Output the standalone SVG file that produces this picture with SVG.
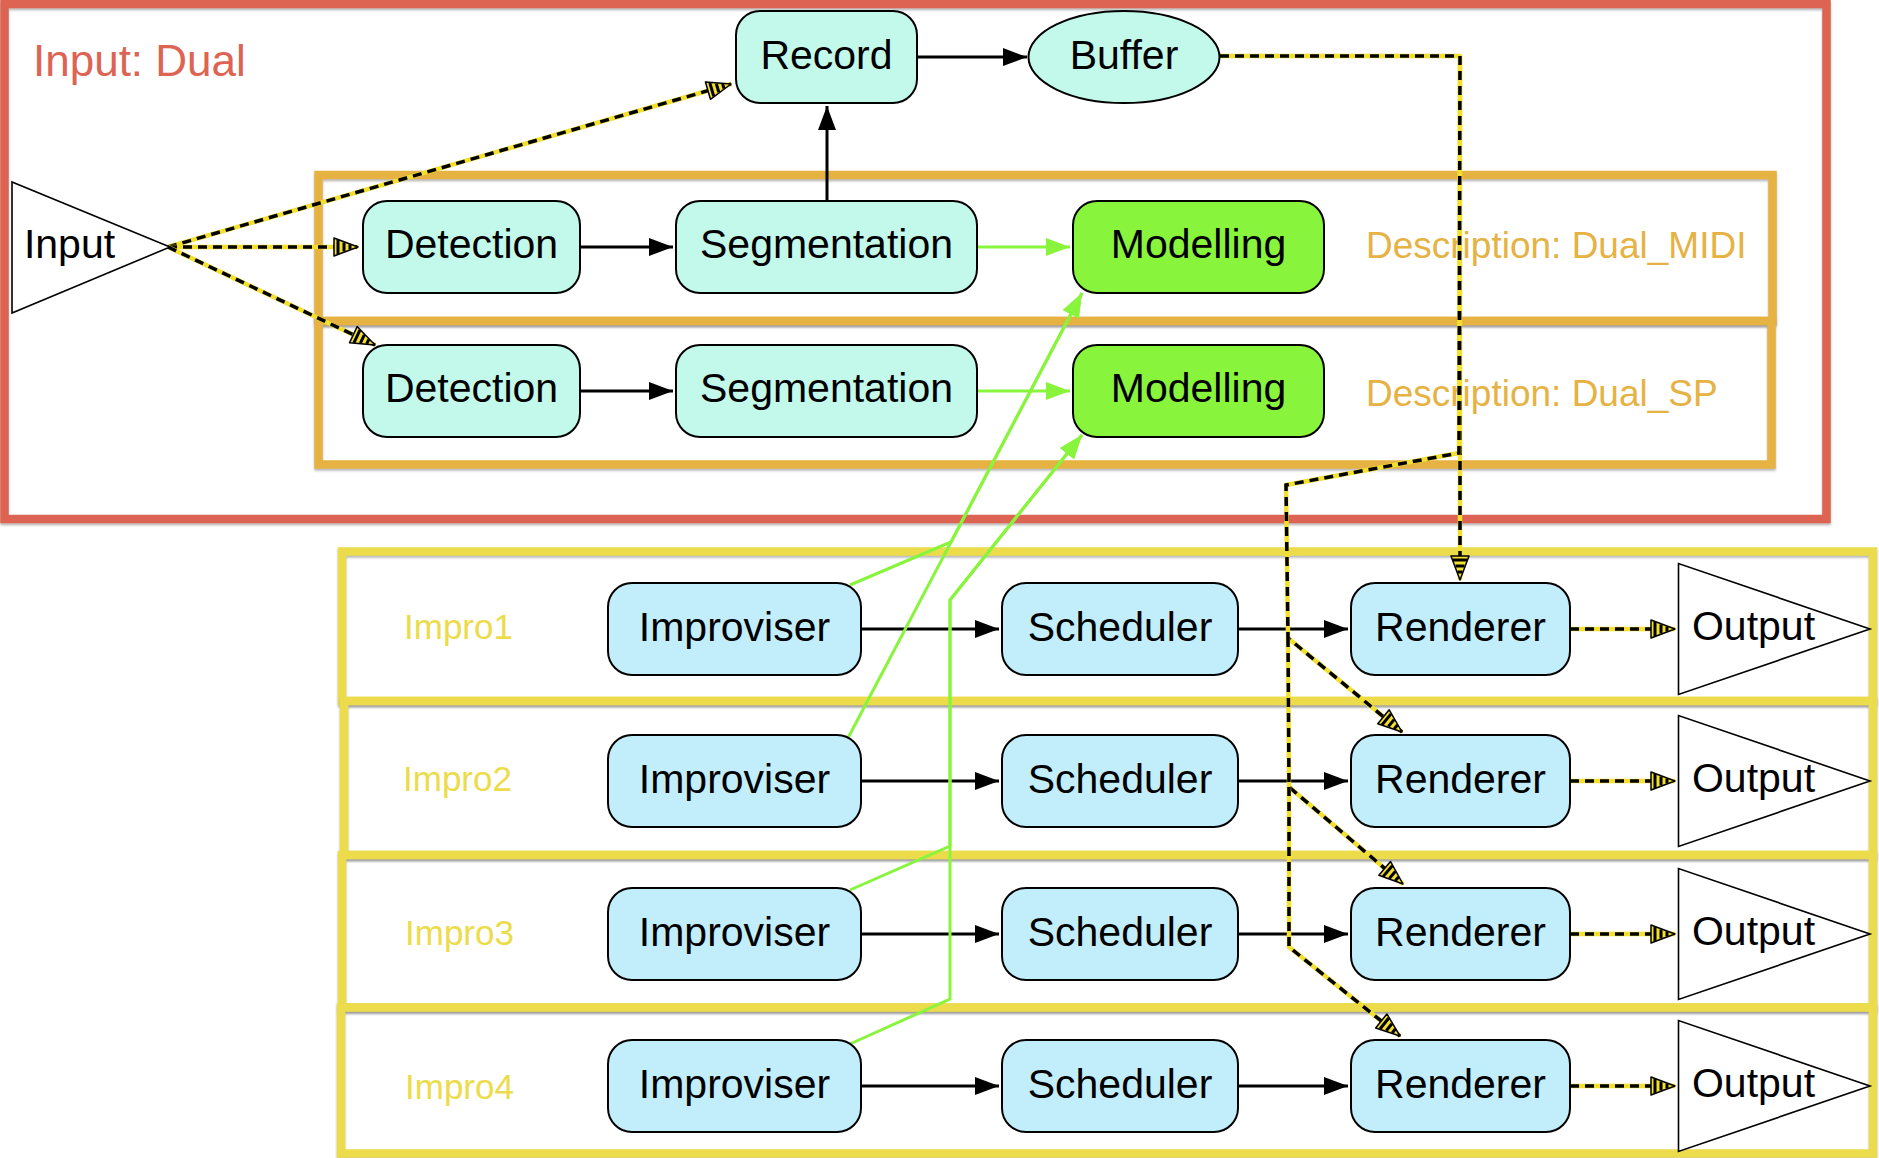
<svg xmlns="http://www.w3.org/2000/svg" width="1879" height="1158" viewBox="0 0 1879 1158">
<style>
  text { font-family: "Liberation Sans", Arial, Helvetica, sans-serif; }
  .node text, .lbl { font-size: 41px; fill: #000; text-anchor: middle; }
  .mint { fill: #C3F9EA; stroke: #000; stroke-width: 2; }
  .blue { fill: #C2EEFC; stroke: #000; stroke-width: 2; }
  .green { fill: #88F53C; stroke: #000; stroke-width: 2; }
  .tri { fill: #FFFFFF; stroke: #000; stroke-width: 1.6; }
  .cont { fill: none; stroke-width: 8.5; filter: url(#sh); }
  .red { stroke: #DD6352; }
  .orange { stroke: #E6B243; }
  .yellow { stroke: #ECDC4B; }
  .c-black { fill: none; stroke: #000; stroke-width: 3; marker-end: url(#ab); }
  .c-green { fill: none; stroke: #88F53C; stroke-width: 3; marker-end: url(#ag); }
  .c-dy { fill: none; stroke: #F2DF2E; stroke-width: 4.5; stroke-linejoin: round; }
  .c-dk { fill: none; stroke: #000; stroke-width: 3.5; stroke-dasharray: 9 6; marker-end: url(#ad); }
  .t-red { fill: #DD6352; font-size: 44px; }
  .t-orange { fill: #E6B243; font-size: 37px; }
  .t-yellow { fill: #ECDC4B; font-size: 35px; }
</style>
<defs>
  <filter id="sh" x="-5%" y="-5%" width="110%" height="115%">
    <feDropShadow dx="0" dy="2" stdDeviation="1" flood-color="#888" flood-opacity="0.6"/>
  </filter>
  <marker id="ab" markerUnits="userSpaceOnUse" markerWidth="24" markerHeight="18" refX="24" refY="9" orient="auto" overflow="visible">
    <path d="M0,0 L24,9 L0,18 z" fill="#000"/>
  </marker>
  <marker id="ag" markerUnits="userSpaceOnUse" markerWidth="24" markerHeight="18" refX="24" refY="9" orient="auto" overflow="visible">
    <path d="M0,0 L24,9 L0,18 z" fill="#88F53C"/>
  </marker>
  <marker id="ad" markerUnits="userSpaceOnUse" markerWidth="24" markerHeight="18" refX="24" refY="9" orient="auto" overflow="visible">
    <path d="M0,0 L24,9 L0,18 z" fill="#F2DF2E" stroke="#000" stroke-width="1.5" stroke-linejoin="round"/>
    <path d="M4,2 L4,16 M10,4.5 L10,13.5 M16,6.5 L16,11.5" stroke="#000" stroke-width="3"/>
  </marker>
</defs>
<rect width="1879" height="1158" fill="#FFFFFF"/>

<!-- containers -->
<g id="container-input-dual">
  <rect class="cont red" x="4.5" y="4" width="1822" height="515"/>
  <text class="t-red" x="33" y="76">Input: Dual</text>
</g>
<g id="container-dual-midi">
  <rect class="cont orange" x="318.5" y="175" width="1454" height="146"/>
  <text class="t-orange" x="1366" y="257.5">Description: Dual_MIDI</text>
</g>
<g id="container-dual-sp">
  <rect class="cont orange" x="318.5" y="321" width="1453" height="143.5"/>
  <text class="t-orange" x="1366" y="406">Description: Dual_SP</text>
</g>
<g id="container-impro1">
  <rect class="cont yellow" x="342" y="551.5" width="1531" height="149.5"/>
  <text class="t-yellow" x="404" y="639">Impro1</text>
</g>
<g id="container-impro2">
  <rect class="cont yellow" x="344" y="701" width="1529" height="154"/>
  <text class="t-yellow" x="403" y="791">Impro2</text>
</g>
<g id="container-impro3">
  <rect class="cont yellow" x="342" y="855" width="1531" height="152.5"/>
  <text class="t-yellow" x="405" y="945">Impro3</text>
</g>
<g id="container-impro4">
  <rect class="cont yellow" x="341" y="1007.5" width="1532" height="146"/>
  <text class="t-yellow" x="405" y="1099">Impro4</text>
</g>

<!-- connectors -->
<g id="connectors">
  <!-- black solid -->
  <path class="c-black" d="M917,57 L1027,57"/>
  <path class="c-black" d="M827,201 L827,106"/>
  <path class="c-black" d="M580,247 L673,247"/>
  <path class="c-black" d="M580,391 L673,391"/>
  <path class="c-black" d="M861,629 L999,629"/>
  <path class="c-black" d="M861,781 L999,781"/>
  <path class="c-black" d="M861,934 L999,934"/>
  <path class="c-black" d="M861,1086 L999,1086"/>
  <path class="c-black" d="M1238,629 L1348,629"/>
  <path class="c-black" d="M1238,781 L1348,781"/>
  <path class="c-black" d="M1238,934 L1348,934"/>
  <path class="c-black" d="M1238,1086 L1348,1086"/>
  <!-- green -->
  <path class="c-green" d="M977,247 L1070,247"/>
  <path class="c-green" d="M977,391 L1070,391"/>
  <path class="c-green" d="M850,585 L951,542 L1082,293"/>
  <path class="c-green" d="M848,738 L1082,293"/>
  <path class="c-green" d="M850,890 L950,846 L950,600 L1082,435"/>
  <path class="c-green" d="M850,1044 L950,999 L950,600 L1082,435"/>
  <!-- yellow/black dashed -->
  <g id="c-input-record"><path class="c-dy" d="M168,247 L731,84"/><path class="c-dk" d="M168,247 L731,84"/></g>
  <g id="c-input-det1"><path class="c-dy" d="M168,247 L358,247"/><path class="c-dk" d="M168,247 L358,247"/></g>
  <g id="c-input-det2"><path class="c-dy" d="M168,247 L375,345"/><path class="c-dk" d="M168,247 L375,345"/></g>
  <g id="c-buffer-r1"><path class="c-dy" d="M1220,56 L1460,56 L1460,580"/><path class="c-dk" d="M1220,56 L1460,56 L1460,580"/></g>
  <g id="c-buffer-r2"><path class="c-dy" d="M1460,56 L1459,453 L1286,485 L1288,638 L1402,732"/><path class="c-dk" d="M1460,56 L1459,453 L1286,485 L1288,638 L1402,732"/></g>
  <g id="c-buffer-r3"><path class="c-dy" d="M1288,638 L1289,787 L1403,884"/><path class="c-dk" d="M1288,638 L1289,787 L1403,884"/></g>
  <g id="c-buffer-r4"><path class="c-dy" d="M1289,787 L1289,947 L1400,1036"/><path class="c-dk" d="M1289,787 L1289,947 L1400,1036"/></g>
  <g id="c-r1-out"><path class="c-dy" d="M1570,629 L1675,629"/><path class="c-dk" d="M1570,629 L1675,629"/></g>
  <g id="c-r2-out"><path class="c-dy" d="M1570,781 L1675,781"/><path class="c-dk" d="M1570,781 L1675,781"/></g>
  <g id="c-r3-out"><path class="c-dy" d="M1570,934 L1675,934"/><path class="c-dk" d="M1570,934 L1675,934"/></g>
  <g id="c-r4-out"><path class="c-dy" d="M1570,1086 L1675,1086"/><path class="c-dk" d="M1570,1086 L1675,1086"/></g>
</g>

<!-- nodes -->
<g id="input" class="node">
  <polygon class="tri" points="12,182 12,313 170,247"/>
  <text x="69.5" y="258">Input</text>
</g>
<g id="record" class="node">
  <rect class="mint" x="736" y="11" width="181" height="92" rx="24"/>
  <text x="826.5" y="69">Record</text>
</g>
<g id="buffer" class="node">
  <ellipse class="mint" cx="1124" cy="57" rx="95.5" ry="46"/>
  <text x="1124" y="69">Buffer</text>
</g>
<g id="detection-midi" class="node">
  <rect class="mint" x="363" y="201" width="217" height="92" rx="24"/>
  <text x="471.5" y="258">Detection</text>
</g>
<g id="segmentation-midi" class="node">
  <rect class="mint" x="676" y="201" width="301" height="92" rx="24"/>
  <text x="826.5" y="258">Segmentation</text>
</g>
<g id="modelling-midi" class="node">
  <rect class="green" x="1073" y="201" width="251" height="92" rx="24"/>
  <text x="1198.5" y="258">Modelling</text>
</g>
<g id="detection-sp" class="node">
  <rect class="mint" x="363" y="345" width="217" height="92" rx="24"/>
  <text x="471.5" y="402">Detection</text>
</g>
<g id="segmentation-sp" class="node">
  <rect class="mint" x="676" y="345" width="301" height="92" rx="24"/>
  <text x="826.5" y="402">Segmentation</text>
</g>
<g id="modelling-sp" class="node">
  <rect class="green" x="1073" y="345" width="251" height="92" rx="24"/>
  <text x="1198.5" y="402">Modelling</text>
</g>

<g id="improviser1" class="node"><rect class="blue" x="608" y="583" width="253" height="92" rx="24"/><text x="734.5" y="641">Improviser</text></g>
<g id="scheduler1" class="node"><rect class="blue" x="1002" y="583" width="236" height="92" rx="24"/><text x="1120" y="641">Scheduler</text></g>
<g id="renderer1" class="node"><rect class="blue" x="1351" y="583" width="219" height="92" rx="24"/><text x="1460.5" y="641">Renderer</text></g>
<g id="output1" class="node"><polygon class="tri" points="1678.5,563.5 1678.5,694.5 1870,629"/><text x="1753.5" y="640">Output</text></g>

<g id="improviser2" class="node"><rect class="blue" x="608" y="735" width="253" height="92" rx="24"/><text x="734.5" y="793">Improviser</text></g>
<g id="scheduler2" class="node"><rect class="blue" x="1002" y="735" width="236" height="92" rx="24"/><text x="1120" y="793">Scheduler</text></g>
<g id="renderer2" class="node"><rect class="blue" x="1351" y="735" width="219" height="92" rx="24"/><text x="1460.5" y="793">Renderer</text></g>
<g id="output2" class="node"><polygon class="tri" points="1678.5,715.5 1678.5,846.5 1870,781"/><text x="1753.5" y="792">Output</text></g>

<g id="improviser3" class="node"><rect class="blue" x="608" y="888" width="253" height="92" rx="24"/><text x="734.5" y="946">Improviser</text></g>
<g id="scheduler3" class="node"><rect class="blue" x="1002" y="888" width="236" height="92" rx="24"/><text x="1120" y="946">Scheduler</text></g>
<g id="renderer3" class="node"><rect class="blue" x="1351" y="888" width="219" height="92" rx="24"/><text x="1460.5" y="946">Renderer</text></g>
<g id="output3" class="node"><polygon class="tri" points="1678.5,868.5 1678.5,999.5 1870,934"/><text x="1753.5" y="945">Output</text></g>

<g id="improviser4" class="node"><rect class="blue" x="608" y="1040" width="253" height="92" rx="24"/><text x="734.5" y="1098">Improviser</text></g>
<g id="scheduler4" class="node"><rect class="blue" x="1002" y="1040" width="236" height="92" rx="24"/><text x="1120" y="1098">Scheduler</text></g>
<g id="renderer4" class="node"><rect class="blue" x="1351" y="1040" width="219" height="92" rx="24"/><text x="1460.5" y="1098">Renderer</text></g>
<g id="output4" class="node"><polygon class="tri" points="1678.5,1020.5 1678.5,1151.5 1870,1086"/><text x="1753.5" y="1097">Output</text></g>
</svg>
